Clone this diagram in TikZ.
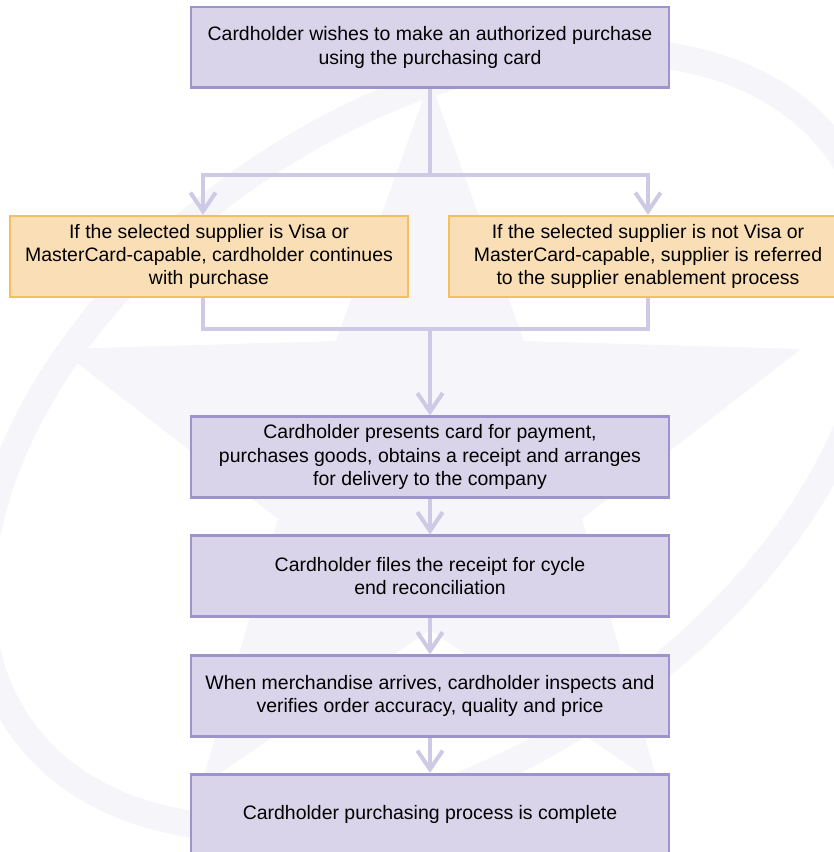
\documentclass[tikz,border=0pt]{standalone}
\usepackage{fontspec}
\setmainfont{Liberation Sans}
\usetikzlibrary{arrows.meta}
\definecolor{lavfill}{RGB}{217,212,234}
\definecolor{lavline}{RGB}{158,148,204}
\definecolor{orfill}{RGB}{250,223,182}
\definecolor{orline}{RGB}{244,192,92}
\definecolor{flowline}{RGB}{206,201,228}
\definecolor{wmark}{RGB}{246,245,250}

\begin{document}
\begin{tikzpicture}[x=0.75pt, y=-0.75pt,
    stepbox/.style={draw=lavline, fill=lavfill, line width=2pt, minimum width=358.5pt, minimum height=60.5pt,
        align=center, inner sep=0pt, font=\fontsize{14.6}{17.4}\selectfont},
    choicebox/.style={stepbox, draw=orline, fill=orfill, minimum width=298.5pt},
    flow/.style={draw=flowline, line width=3pt},
    flowarrow/.style={flow, -{Straight Barb[length=14pt, width=19pt]}}]
    \useasboundingbox (0,0) rectangle (834,852);
    \clip (0,0) rectangle (834,852);

    % faint watermark behind the chart
    \begin{scope}[rotate around={35:(430,440)}]
        \draw[wmark, line width=20pt] (430,440) ellipse [x radius=500, y radius=320];
    \end{scope}
    \fill[wmark] (430,80) -- (336,341) -- (59,349) -- (278,519) -- (201,786) -- (430,630)
        -- (659,786) -- (582,519) -- (801,349) -- (524,341) -- cycle;

    % steps
    \node[stepbox] (wish) at (430,47.5) {Cardholder wishes to make an authorized purchase\\using the purchasing card};
    \node[choicebox] (capable) at (209,256.5) {If the selected supplier is Visa or\\MasterCard-capable, cardholder continues\\with purchase};
    \node[choicebox] (notcapable) at (648,256.5) {If the selected supplier is not Visa or\\MasterCard-capable, supplier is referred\\to the supplier enablement process};
    \node[stepbox] (present) at (430,457) {Cardholder presents card for payment,\\purchases goods, obtains a receipt and arranges\\for delivery to the company};
    \node[stepbox] (files) at (430,576) {Cardholder files the receipt for cycle\\end reconciliation};
    \node[stepbox] (arrives) at (430,696) {When merchandise arrives, cardholder inspects and\\verifies order accuracy, quality and price};
    \node[stepbox] (complete) at (430,814.5) {Cardholder purchasing process is complete};

    % split and join
    \coordinate (split) at (430,175);
    \coordinate (join) at (430,329);
    \draw[flow] (wish.south) -- (split);
    \draw[flowarrow] (split) -| ([xshift=-4.5pt]capable.north);
    \draw[flowarrow] (split) -| (notcapable.north);
    \draw[flow] ([xshift=-4.5pt]capable.south) |- (join);
    \draw[flow] (notcapable.south) |- (join);
    \draw[flowarrow] (join) -- (present.north);

    % straight run down
    \draw[flowarrow] (present) -- (files);
    \draw[flowarrow] (files) -- (arrives);
    \draw[flowarrow] (arrives) -- (complete);
\end{tikzpicture}
\end{document}
